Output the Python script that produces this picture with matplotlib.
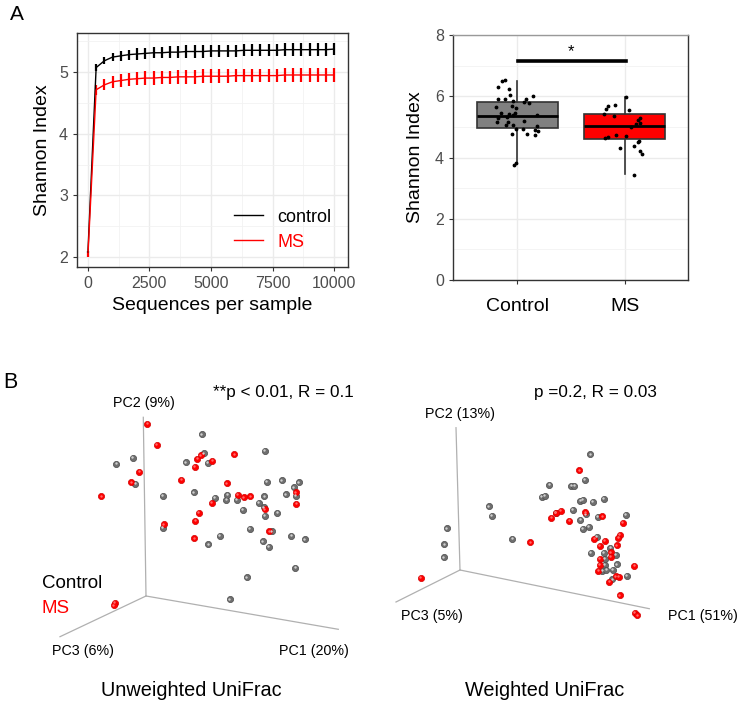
import numpy as np
import matplotlib.pyplot as plt
from matplotlib.lines import Line2D
from matplotlib.ticker import MultipleLocator

plt.rcParams['font.family'] = ['Liberation Sans', 'DejaVu Sans']

# === Panel A (left): rarefaction curves ===
depth = [10, 343, 676, 1009, 1342, 1675, 2008, 2341, 2674, 3007, 3340, 3673, 4006,
         4339, 4672, 5005, 5338, 5671, 6004, 6337, 6670, 7003, 7336, 7669, 8002,
         8335, 8668, 9001, 9334, 9667, 10000]
ctrl_mean = [2.08, 5.07, 5.18, 5.24, 5.26, 5.28, 5.29, 5.30, 5.31, 5.31, 5.32, 5.32, 5.33,
             5.33, 5.33, 5.34, 5.34, 5.34, 5.34, 5.35, 5.35, 5.35, 5.35, 5.35, 5.36,
             5.36, 5.36, 5.36, 5.36, 5.36, 5.37]
ctrl_err = [0.02, 0.05, 0.06, 0.07, 0.08, 0.08, 0.09, 0.09, 0.09, 0.09, 0.10, 0.10, 0.10,
            0.10, 0.10, 0.10, 0.10, 0.10, 0.10, 0.10, 0.10, 0.10, 0.10, 0.10, 0.10,
            0.10, 0.10, 0.10, 0.10, 0.10, 0.10]
ms_mean = [2.03, 4.71, 4.79, 4.84, 4.86, 4.88, 4.89, 4.90, 4.90, 4.91, 4.91, 4.92, 4.92,
           4.92, 4.93, 4.93, 4.93, 4.93, 4.94, 4.94, 4.94, 4.94, 4.94, 4.94, 4.95,
           4.95, 4.95, 4.95, 4.95, 4.95, 4.95]
ms_err = [0.03, 0.08, 0.09, 0.10, 0.10, 0.11, 0.11, 0.11, 0.11, 0.11, 0.11, 0.11, 0.11,
          0.11, 0.11, 0.11, 0.11, 0.11, 0.11, 0.11, 0.11, 0.11, 0.11, 0.11, 0.11,
          0.11, 0.11, 0.11, 0.11, 0.11, 0.11]

# === Panel A (right): Shannon boxplot ===
groups = ["Control", "MS"]
box_q1 = [4.95, 4.60]
box_med = [5.37, 5.03]
box_q3 = [5.80, 5.41]
whisk_lo = [3.78, 3.45]
whisk_hi = [6.51, 5.97]
ctrl_x = [0.88, 0.86, 0.82, 0.92, 0.93, 1.15, 0.82, 0.88, 0.96, 1.08, 1.11, 1.06, 0.80,
          0.95, 0.99, 0.85, 0.98, 0.92, 1.18, 0.96, 0.82, 0.90, 1.06, 0.81, 0.91, 0.89,
          0.96, 1.18, 0.99, 1.05, 1.16, 1.19, 0.95, 1.09, 1.16, 0.99, 0.97]
ctrl_y = [6.53, 6.50, 6.29, 6.24, 6.03, 6.01, 5.91, 5.90, 5.84, 5.90, 5.77, 5.80, 5.65,
          5.68, 5.63, 5.46, 5.44, 5.42, 5.40, 5.39, 5.28, 5.32, 5.20, 5.15, 5.15, 5.06,
          5.06, 5.03, 4.92, 4.93, 4.89, 4.87, 4.77, 4.77, 4.72, 3.81, 3.76]
ms_x = [2.01, 1.84, 1.83, 1.91, 2.04, 1.81, 1.90, 2.14, 2.12, 2.11, 2.14, 2.06, 1.84,
        1.82, 1.92, 2.01, 1.96, 2.13, 2.12, 2.09, 2.14, 2.16, 2.09]
ms_y = [5.97, 5.69, 5.58, 5.71, 5.56, 5.43, 5.37, 5.30, 5.23, 5.10, 5.13, 5.00, 4.68,
        4.65, 4.73, 4.71, 4.31, 4.54, 4.49, 4.38, 4.21, 4.12, 3.43]

# === Panel B: projected PCoA coordinates (screen units of each panel) ===
uw_ctrl_x = [201.7, 133.0, 116.3, 186.0, 204.0, 208.0, 135.3, 265.0, 163.0, 193.7, 215.0,
             226.3, 227.3, 236.7, 259.0, 264.3, 266.7, 282.0, 299.0, 293.7, 285.7, 295.7,
             243.0, 265.0, 264.0, 277.3, 250.0, 272.0, 163.0, 220.0, 208.3, 263.0, 268.7,
             291.3, 304.7, 295.3, 246.7, 230.0]
uw_ctrl_y = [114.3, 137.7, 144.0, 142.3, 133.3, 143.0, 164.0, 130.7, 175.7, 172.3, 178.0,
             180.0, 174.7, 180.0, 182.7, 176.3, 162.0, 160.3, 162.3, 167.3, 174.3, 176.0,
             189.7, 195.7, 187.3, 192.7, 208.7, 211.3, 208.0, 216.0, 224.3, 221.3, 227.0,
             215.7, 219.3, 248.0, 257.3, 279.3]
uw_ms_x = [147.3, 157.0, 200.7, 197.3, 212.3, 195.0, 234.3, 139.3, 131.3, 101.3, 181.3,
           226.7, 237.7, 243.7, 250.3, 212.0, 199.0, 195.3, 264.7, 295.7, 296.3, 164.0,
           194.3, 269.3, 114.7, 113.7]
uw_ms_y = [103.7, 124.7, 135.3, 138.7, 140.7, 147.0, 134.3, 152.0, 162.3, 176.3, 159.7,
           163.3, 175.0, 177.3, 176.3, 182.7, 193.0, 200.7, 189.3, 172.3, 183.7, 204.3,
           218.3, 211.3, 282.7, 285.3]
w_ctrl_x = [220.3, 215.0, 179.3, 201.3, 204.3, 172.0, 174.7, 210.3, 213.0, 223.0, 233.7,
            118.7, 122.0, 185.7, 203.0, 216.0, 210.3, 227.7, 256.0, 213.0, 218.7, 76.7,
            74.3, 74.0, 142.3, 227.0, 221.0, 233.7, 240.3, 235.0, 245.7, 235.0, 246.7,
            242.7, 232.3, 236.3, 256.7, 242.3]
w_ctrl_y = [134.3, 160.0, 165.0, 165.7, 165.7, 177.0, 176.0, 181.0, 180.0, 182.0, 178.7,
            186.3, 195.7, 192.7, 190.0, 194.3, 199.7, 196.7, 195.0, 209.0, 207.0, 208.3,
            224.3, 237.3, 218.7, 217.0, 233.0, 233.0, 227.7, 239.0, 235.0, 245.0, 244.3,
            249.7, 250.7, 250.0, 256.0, 259.3]
w_ms_x = [209.3, 191.0, 185.7, 181.3, 199.3, 215.3, 232.3, 252.7, 249.7, 248.3, 235.0,
          224.3, 230.0, 246.7, 240.7, 240.7, 230.0, 230.0, 228.3, 264.3, 246.0, 248.7,
          239.3, 250.0, 265.0, 267.3, 51.0, 160.3]
w_ms_y = [150.3, 191.0, 193.0, 197.7, 200.7, 192.3, 196.3, 203.0, 215.0, 218.0, 221.0,
          219.0, 225.7, 225.3, 232.3, 236.7, 239.0, 245.0, 251.0, 245.7, 256.3, 256.7,
          261.7, 275.3, 292.7, 295.3, 258.0, 222.3]

W, H = 740, 703
fig = plt.figure(figsize=(W / 100, H / 100), dpi=100)


def frac(left, top, right, bottom):
    return [left / W, 1 - bottom / H, (right - left) / W, (bottom - top) / H]


# --- A left ---
ax1 = fig.add_axes(frac(77, 33, 348, 267))
ax1.set_xlim(-433, 10555)
ax1.set_ylim(1.84, 5.63)
ax1.xaxis.set_major_locator(MultipleLocator(2500))
ax1.xaxis.set_minor_locator(MultipleLocator(1250))
ax1.yaxis.set_major_locator(MultipleLocator(1))
ax1.yaxis.set_minor_locator(MultipleLocator(0.5))
ax1.grid(which="major", color="#ebebeb", lw=1.0)
ax1.grid(which="minor", color="#f2f2f2", lw=0.6)
ax1.set_axisbelow(True)
ax1.errorbar(depth, ctrl_mean, yerr=ctrl_err, color="black", lw=1.0, elinewidth=1.6,
             capsize=0)
ax1.errorbar(depth, ms_mean, yerr=ms_err, color="red", lw=1.0, elinewidth=1.6,
             capsize=0)
for s in ax1.spines.values():
    s.set_color("#333333")
    s.set_linewidth(1.0)
ax1.tick_params(which="major", colors="#333333", labelcolor="#4d4d4d", labelsize=11.5,
                length=3)
ax1.tick_params(which="minor", length=0)
ax1.set_xlabel("Sequences per sample", fontsize=14, labelpad=4)
ax1.set_ylabel("Shannon Index", fontsize=14, labelpad=6)
handles = [Line2D([], [], color="black", lw=1.0), Line2D([], [], color="red", lw=1.0)]
leg = ax1.legend(handles, ["control", "MS"], loc="lower right", frameon=False,
                 fontsize=13, handlelength=1.6, borderaxespad=0.5, labelspacing=0.45)
for t, c in zip(leg.get_texts(), ["black", "red"]):
    t.set_color(c)
fig.text(10 / W, 1 - 15 / H, "A", fontsize=15, va="center", ha="left")

# --- A right ---
ax2 = fig.add_axes(frac(453, 35, 688, 280))
stats = []
for i in range(2):
    stats.append(dict(med=box_med[i], q1=box_q1[i], q3=box_q3[i],
                      whislo=whisk_lo[i], whishi=whisk_hi[i], fliers=[]))
bp = ax2.bxp(stats, positions=[1, 2], widths=0.75, patch_artist=True,
             showcaps=False,
             boxprops=dict(edgecolor="#333333", lw=1.2),
             medianprops=dict(color="black", lw=2.0),
             whiskerprops=dict(color="#333333", lw=1.2))
for p, c in zip(bp["boxes"], ["#808080", "#ff0000"]):
    p.set_facecolor(c)
ax2.scatter(ctrl_x, ctrl_y, s=3, color="black", zorder=5)
ax2.scatter(ms_x, ms_y, s=3, color="black", zorder=5)
ax2.plot([1.006, 2.009], [7.15, 7.15], color="black", lw=2.6)
ax2.text(1.5, 7.45, "*", ha="center", va="center", fontsize=12)
ax2.set_xlim(0.40, 2.59)
ax2.set_ylim(0, 8)
ax2.yaxis.set_major_locator(MultipleLocator(2))
ax2.yaxis.set_minor_locator(MultipleLocator(1))
ax2.set_xticks([1, 2])
ax2.set_xticklabels(groups)
ax2.grid(which="major", color="#ebebeb", lw=1.0)
ax2.grid(which="minor", axis="y", color="#f2f2f2", lw=0.6)
ax2.set_axisbelow(True)
for name, s in ax2.spines.items():
    s.set_color("#333333" if name != "top" else "#999999")
    s.set_linewidth(1.0)
ax2.tick_params(which="major", colors="#333333", length=3)
ax2.tick_params(axis="y", labelcolor="#4d4d4d", labelsize=11.5)
ax2.tick_params(axis="x", labelcolor="black", labelsize=14, pad=10)
ax2.tick_params(which="minor", length=0)
ax2.set_ylabel("Shannon Index", fontsize=14, labelpad=8)


# --- B panels ---
def sphere(ax, xs, ys, base, edge, shine):
    ax.scatter(xs, ys, s=20, color=base, edgecolors=edge, linewidths=0.5, zorder=3)
    ax.scatter(np.array(xs) - 0.6, np.array(ys) - 0.7, s=3, color=shine, lw=0,
               zorder=4)


def pcoa_panel(rect, axes_lines, labels, ann, title):
    ax = fig.add_axes(rect)
    ax.set_xlim(0, 370)
    ax.set_ylim(383, 0)
    ax.axis("off")
    origin, ends = axes_lines
    for e in ends:
        ax.plot([origin[0], e[0]], [origin[1], e[1]], color="#b0b0b0", lw=0.9, zorder=1)
    for (x, y, txt) in labels:
        ax.text(x, y, txt, ha="center", va="center", fontsize=10.3)
    ax.text(ann[0], ann[1], ann[2], ha="center", va="center", fontsize=12.3)
    ax.text(title[0], title[1], title[2], ha="center", va="center", fontsize=14.3)
    return ax


ax3 = pcoa_panel([0, 0, 370 / W, 383 / H],
                 ((146, 276), [(143.3, 97.3), (338.3, 309.3), (60, 316.7)]),
                 [(144.3, 83.3, "PC2 (9%)"), (82.7, 331, "PC3 (6%)"),
                  (314, 331, "PC1 (20%)")],
                 (283.3, 72.7, "**p < 0.01, R = 0.1"),
                 (191, 370.7, "Unweighted UniFrac"))
sphere(ax3, uw_ctrl_x, uw_ctrl_y, "#6f6f6f", "#4a4a4a", "#cfcfcf")
sphere(ax3, uw_ms_x, uw_ms_y, "#ff0000", "#d40000", "#ff6a6a")
ax3.text(41.7, 263, "Control", ha="left", va="center", fontsize=13.5, color="black")
ax3.text(41.7, 288.3, "MS", ha="left", va="center", fontsize=13.5, color="red")
ax3.text(3, 63, "B", ha="left", va="center", fontsize=15.5)

ax4 = pcoa_panel([370 / W, 0, 370 / W, 383 / H],
                 ((90, 250), [(86, 107.7), (279.3, 288.7), (26, 282)]),
                 [(90, 94.3, "PC2 (13%)"), (62.3, 296, "PC3 (5%)"),
                  (333.3, 296, "PC1 (51%)")],
                 (225, 72.7, "p =0.2, R = 0.03"),
                 (175, 370.7, "Weighted UniFrac"))
sphere(ax4, w_ctrl_x, w_ctrl_y, "#6f6f6f", "#4a4a4a", "#cfcfcf")
sphere(ax4, w_ms_x, w_ms_y, "#ff0000", "#d40000", "#ff6a6a")

fig.savefig("out.png", dpi=100, facecolor="white")
